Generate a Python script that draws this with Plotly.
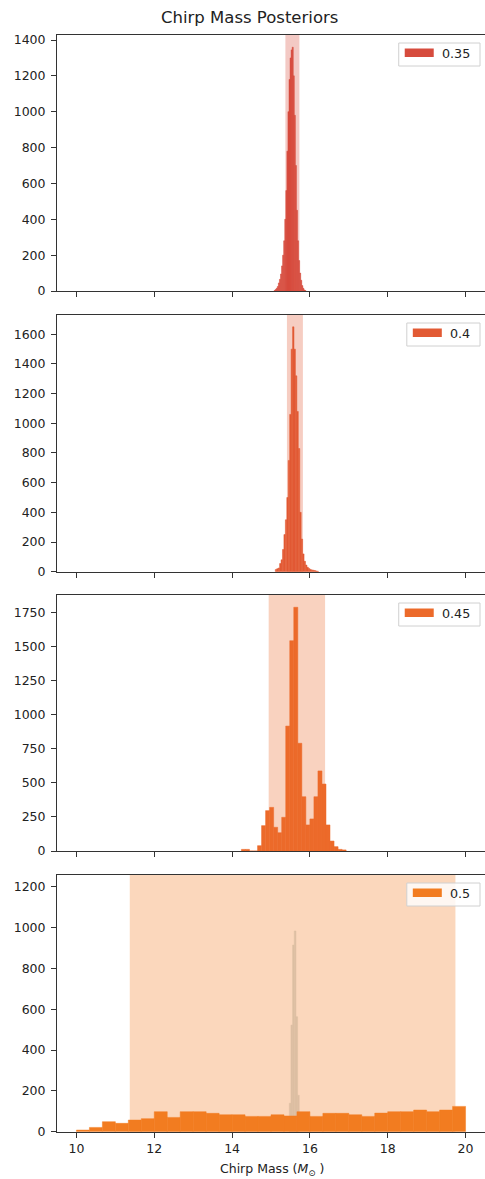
import numpy as np
import plotly.graph_objects as go

# ---------------- data ----------------
labels = ["0.35", "0.4", "0.45", "0.5"]

# histogram bin ranges (lo, hi) and counts per panel
bins1 = (15.08, 15.90)
counts1 = [3, 8, 15, 25, 45, 65, 95, 140, 200, 280, 400, 560, 780, 1000, 1180,
           1300, 1345, 1360, 1200, 980, 700, 450, 280, 170, 100, 60, 30, 15, 6, 2]

bins2 = (15.11, 16.22)
counts2 = [15, 20, 25, 55, 80, 150, 250, 350, 500, 750, 1060, 1500, 1650, 1500, 1320,
           1080, 830, 400, 220, 120, 70, 45, 30, 22, 15, 12, 10, 8, 5, 3]

bins3 = (14.24, 16.931)
counts3 = [12, 12, 0, 0, 39, 186, 296, 320, 174, 134, 247, 916, 1542, 1787, 790,
           398, 191, 235, 398, 587, 491, 191, 73, 32, 12, 8]

bins4 = (10.0, 20.0)
counts4 = [8, 21, 49, 41, 57, 64, 98, 70, 98, 98, 90, 83, 83, 75, 75,
           83, 77, 98, 75, 90, 90, 83, 75, 91, 98, 98, 106, 98, 106, 124]

# narrow overlaid spike in the last panel
spike_bins = (15.47, 15.726)
spike_counts = [139, 522, 914, 983, 563, 178]

# shaded credible intervals
bands = [(15.37, 15.73), (15.41, 15.82), (14.94, 16.39), (11.37, 19.74)]

all_bins = [bins1, bins2, bins3, bins4]
all_counts = [counts1, counts2, counts3, counts4]

# y-axis settings
y_tops = [1428, 1730, 1877, 1257]
y_dticks = [200, 200, 250, 200]
x_ticks = [10, 12, 14, 16, 18, 20]

# ---------------- style ----------------
bar_colors = ["#D64B3D", "#E25A34", "#EC6A2A", "#F27C20"]
band_alpha = 0.3
spike_color = "#DDBFA3"
FONT = "DejaVu Sans"
TXT = "#222222"
AX = "#333333"

W, H = 485, 1179
ML, MR, MT, MB = 57, 0, 35, 47
PW = W - ML - MR
PH = H - MT - MB

panel_px = [(35, 291), (315, 571.7), (595, 851), (875, 1131.7)]


def rgba(hexc, a):
    h = hexc.lstrip("#")
    r, g, b = int(h[0:2], 16), int(h[2:4], 16), int(h[4:6], 16)
    return f"rgba({r},{g},{b},{a})"


def hist_xy(rng, counts):
    edges = np.linspace(rng[0], rng[1], len(counts) + 1)
    centers = (edges[:-1] + edges[1:]) / 2
    widths = np.diff(edges)
    return centers, widths


fig = go.Figure()
shapes = []
annotations = []
layout = {}

for i in range(4):
    n = i + 1
    xa = "x" if n == 1 else f"x{n}"
    ya = "y" if n == 1 else f"y{n}"
    top_px, bot_px = panel_px[i]
    dom = [(H - MB - bot_px) / PH, (H - MB - top_px) / PH]
    ph = bot_px - top_px

    if n == 4:
        cx, cw = hist_xy(spike_bins, spike_counts)
        fig.add_trace(go.Bar(x=cx, y=spike_counts, width=cw, xaxis=xa, yaxis=ya,
                             marker=dict(color=spike_color,
                                         line=dict(width=0.5, color=spike_color)),
                             showlegend=False, hoverinfo="skip"))

    cx, cw = hist_xy(all_bins[i], all_counts[i])
    fig.add_trace(go.Bar(x=cx, y=all_counts[i], width=cw, xaxis=xa, yaxis=ya,
                         name=labels[i],
                         marker=dict(color=bar_colors[i],
                                     line=dict(width=0.5, color=bar_colors[i])),
                         showlegend=False))

    # credible interval band
    shapes.append(dict(type="rect", xref=xa, yref=f"{ya} domain",
                       x0=bands[i][0], x1=bands[i][1], y0=0, y1=1,
                       fillcolor=rgba(bar_colors[i], band_alpha),
                       line=dict(width=0), layer="below"))

    # manual legend (matplotlib-like)
    fs = 12.7
    tw = fs * sum(0.318 if c == "." else 0.636 for c in labels[i])
    text_right = 472
    text_left = text_right - tw
    patch_r = text_left - 10
    patch_l = patch_r - 29
    box_l = patch_l - 6
    box_r = 480

    def fx(p):
        return (p - ML) / PW

    def fy(d):
        return 1 - d / ph

    shapes.append(dict(type="rect", xref=f"{xa} domain", yref=f"{ya} domain",
                       x0=fx(box_l), x1=fx(box_r), y0=fy(31), y1=fy(8),
                       fillcolor="rgba(255,255,255,0.8)",
                       line=dict(color="#D0D0D0", width=1), layer="above"))
    shapes.append(dict(type="rect", xref=f"{xa} domain", yref=f"{ya} domain",
                       x0=fx(patch_l), x1=fx(patch_r), y0=fy(22), y1=fy(13.5),
                       fillcolor=bar_colors[i], line=dict(width=0), layer="above"))
    annotations.append(dict(text=labels[i], xref=f"{xa} domain", yref=f"{ya} domain",
                            x=fx(text_right), y=fy(18), xanchor="right", yanchor="middle",
                            showarrow=False, font=dict(family=FONT, size=fs, color=TXT)))

    xkey = "xaxis" if n == 1 else f"xaxis{n}"
    ykey = "yaxis" if n == 1 else f"yaxis{n}"
    xa_cfg = dict(
        domain=[0, 1], anchor=ya, range=[9.5, 20.5],
        tickmode="array", tickvals=x_ticks, ticktext=[str(t) for t in x_ticks],
        showticklabels=(n == 4), ticks="outside", ticklen=5, tickwidth=1,
        tickcolor=AX, showline=True, linecolor=AX, linewidth=1, mirror=True,
        showgrid=False, zeroline=False,
        tickfont=dict(family=FONT, size=12.5, color=TXT),
    )
    if n > 1:
        xa_cfg["matches"] = "x"
    layout[xkey] = xa_cfg
    layout[ykey] = dict(
        domain=dom, anchor=xa, range=[0, y_tops[i]],
        dtick=y_dticks[i], tick0=0, ticks="outside", ticklen=5, tickwidth=1,
        tickcolor=AX, showline=True, linecolor=AX, linewidth=1, mirror=False,
        showgrid=False, zeroline=False, ticklabelstandoff=3,
        tickfont=dict(family=FONT, size=12.5, color=TXT),
    )

# title and x label
annotations.append(dict(text="Chirp Mass Posteriors", xref="paper", yref="paper",
                        x=(249 - ML) / PW, y=(H - MB - 17) / PH,
                        xanchor="center", yanchor="middle", showarrow=False,
                        font=dict(family=FONT, size=16.5, color=TXT)))
annotations.append(dict(text="Chirp Mass (<i>M</i><sub>⊙</sub> )", xref="paper", yref="paper",
                        x=(272 - ML) / PW, y=(H - MB - 1169) / PH,
                        xanchor="center", yanchor="middle", showarrow=False,
                        font=dict(family=FONT, size=12.5, color=TXT)))

fig.update_layout(
    width=W, height=H,
    margin=dict(l=ML, r=MR, t=MT, b=MB, pad=0),
    paper_bgcolor="white", plot_bgcolor="white",
    barmode="overlay", showlegend=False,
    shapes=shapes, annotations=annotations,
    **layout,
)

fig.write_html("out.html")
